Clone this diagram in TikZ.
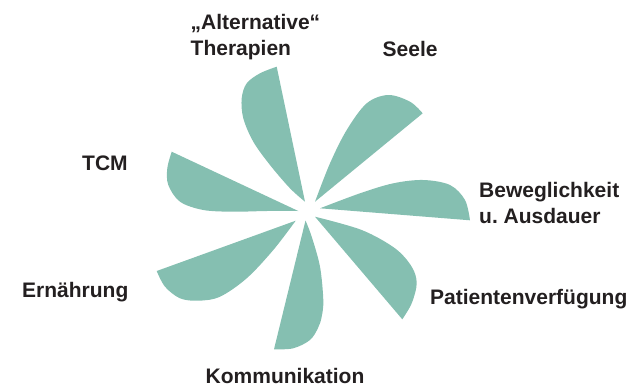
\documentclass[tikz,border=0pt]{standalone}
\usepackage{fontspec}
\setmainfont{Liberation Sans}
\definecolor{petal}{RGB}{133,191,177}
\definecolor{ink}{RGB}{35,31,32}
\tikzset{
  petalfill/.style={fill=petal, draw=none},
  lbl/.style={font=\fontsize{21}{26.5}\selectfont\bfseries, text=ink, inner sep=0pt, align=left, anchor=base west}
}
\begin{document}
\begin{tikzpicture}[x=1pt,y=-1pt]
\useasboundingbox (0,0) rectangle (630,386);
% petals (tip -- far corner, curved edge back to tip)
% Alternative Therapien
\fill[petalfill] (305,201.7) -- (276.7,66.7) -- plot[smooth, tension=0.55] coordinates {(276.7,66.7) (260,73.3) (246.7,83.3) (241.7,98.3) (243.3,118.3) (253.3,141.7) (270,165) (290,188.3) (305,201.7)} -- cycle;
% Seele
\fill[petalfill] (315,201.7) -- (422.7,113.3) -- plot[smooth, tension=0.55] coordinates {(422.7,113.3) (410,101.7) (388.3,95) (366.7,103.3) (346.7,130) (330,163.3) (315,201.7)} -- cycle;
% Beweglichkeit
\fill[petalfill] (320,208.3) -- (470,220.3) -- plot[smooth, tension=0.55] coordinates {(470,220.3) (465,200) (450,185) (423.3,180) (393.3,183.3) (360,193.3) (320,208.3)} -- cycle;
% Patientenverfuegung
\fill[petalfill] (315,216.7) -- (402.3,319.3) -- plot[smooth, tension=0.55] coordinates {(402.3,319.3) (411.7,303.3) (416.7,283.3) (411.7,266.7) (395,248.3) (361.7,230) (315,216.7)} -- cycle;
% Kommunikation
\fill[petalfill] (305.5,220.5) -- (274,349.3) -- plot[smooth, tension=0.55] coordinates {(274,349.3) (293.3,348.3) (310,340) (318,328) (321.7,316.7) (323.3,300) (320,266.7) (311.7,236.7) (305.5,220.5)} -- cycle;
% Ernaehrung
\fill[petalfill] (295.7,220.7) -- (156.7,271) -- plot[smooth, tension=0.55] coordinates {(156.7,271) (165,286.7) (180,298.3) (198.3,300.7) (220,296.7) (246.7,278.3) (273.3,250) (295.7,220.7)} -- cycle;
% TCM
\fill[petalfill] (298.3,211) -- (171.7,151.7) -- plot[smooth, tension=0.55] coordinates {(171.7,151.7) (167.3,168.3) (168.3,185) (180,201.7) (203.3,210) (233.3,211.7) (266.7,211) (298.3,211)} -- cycle;
% labels
\node[lbl] (alt) at (190.5,55.7) {„Alternative“\\Therapien};
\node[lbl] (seele) at (382.5,56) {Seele};
\node[lbl] (tcm) at (82,170.7) {TCM};
\node[lbl] (bew) at (479,223.5) {Beweglichkeit\\u.\ Ausdauer};
\node[lbl] (ern) at (22,297.3) {Ernährung};
\node[lbl] (pat) at (430,304.3) {Patientenverfügung};
\node[lbl] (kom) at (205.5,383) {Kommunikation};
\end{tikzpicture}
\end{document}
